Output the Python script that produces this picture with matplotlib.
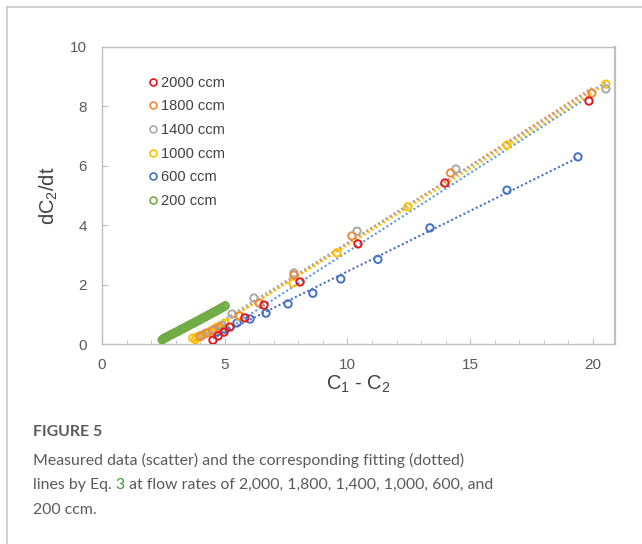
import numpy as np
import matplotlib
matplotlib.use("Agg")
import matplotlib.pyplot as plt
from matplotlib.lines import Line2D

plt.rcParams["font.family"] = ["Liberation Sans", "DejaVu Sans"]
plt.rcParams["mathtext.fontset"] = "custom"
plt.rcParams["mathtext.rm"] = "Liberation Sans"
plt.rcParams["mathtext.it"] = "Liberation Sans:italic"
plt.rcParams["mathtext.bf"] = "Liberation Sans:bold"

# ---- data ----
labels = ["2000 ccm", "1800 ccm", "1400 ccm", "1000 ccm", "600 ccm", "200 ccm"]

x2000 = [4.52, 4.73, 4.97, 5.21, 5.82, 6.60, 8.07, 10.43, 13.97, 19.84]
y2000 = [0.13, 0.27, 0.40, 0.57, 0.88, 1.31, 2.09, 3.37, 5.42, 8.18]

x1800 = [4.00, 4.27, 4.55, 4.80, 5.60, 6.40, 7.82, 10.18, 14.20, 19.96]
y1800 = [0.25, 0.37, 0.48, 0.57, 0.95, 1.38, 2.32, 3.64, 5.76, 8.45]

x1400 = [4.11, 4.50, 4.90, 5.30, 6.19, 7.82, 10.39, 14.42, 20.53]
y1400 = [0.30, 0.45, 0.62, 1.01, 1.55, 2.39, 3.80, 5.89, 8.59]

x1000 = [3.70, 3.80, 3.87, 4.00, 4.20, 4.40, 4.68, 5.00, 5.58, 7.78, 9.57, 12.46, 16.50, 20.53]
y1000 = [0.20, 0.15, 0.24, 0.28, 0.35, 0.42, 0.57, 0.70, 0.94, 2.05, 3.07, 4.62, 6.70, 8.75]

x600 = [4.68, 5.01, 5.50, 6.03, 6.68, 7.58, 8.59, 9.73, 11.24, 13.36, 16.50, 19.39]
y600 = [0.40, 0.50, 0.71, 0.84, 1.04, 1.35, 1.71, 2.19, 2.85, 3.91, 5.18, 6.30]

x200 = [2.45, 2.50, 2.55, 2.60, 2.65, 2.72, 2.80, 2.86, 2.93, 3.00, 3.08, 3.15, 3.22,
        3.30, 3.37, 3.45, 3.52, 3.60, 3.68, 3.75, 3.83, 3.90, 3.98, 4.05, 4.12, 4.20,
        4.28, 4.35, 4.42, 4.50, 4.57, 4.64, 4.72, 4.80, 4.87, 4.95, 5.02]
y200 = [0.14, 0.17, 0.20, 0.22, 0.24, 0.27, 0.31, 0.33, 0.36, 0.39, 0.42, 0.45, 0.49,
        0.52, 0.55, 0.58, 0.62, 0.65, 0.69, 0.71, 0.75, 0.78, 0.81, 0.85, 0.88, 0.91,
        0.95, 0.98, 1.01, 1.05, 1.08, 1.11, 1.15, 1.18, 1.22, 1.25, 1.29]

xs = [x2000, x1800, x1400, x1000, x600, x200]
ys = [y2000, y1800, y1400, y1000, y600, y200]
marker_colors = ["#E3161B", "#F08A3E", "#A8A8A8", "#FFC000", "#4472C4", "#70AD47"]
fit_colors = ["#5B9BD5", "#F08A3E", "#A8A8A8", "#FFC000", "#4472C4", "#70AD47"]

xticks = [0, 5, 10, 15, 20]
yticks = [0, 2, 4, 6, 8, 10]

# ---- figure ----
fig = plt.figure(figsize=(6.42, 5.44), dpi=100)
ax = fig.add_axes([102/642, 1-344/544, (615-102)/642, (344-47)/544])

for x, y, fc in zip(xs, ys, fit_colors):
    x = np.asarray(x); y = np.asarray(y)
    k, b = np.polyfit(x, y, 1)
    xx = np.array([x.min(), x.max()])
    ax.plot(xx, k*xx + b, linestyle=(0, (1, 1.2)), color=fc, lw=1.5, zorder=2)

order = [4, 3, 2, 1, 0, 5]
for i in order:
    ax.scatter(xs[i], ys[i], s=28, facecolors="none", edgecolors=marker_colors[i],
               linewidths=1.4, zorder=3)

ax.set_xlim(0, 20.9)
ax.set_ylim(0, 10)
ax.set_xticks(xticks)
ax.set_xticks(np.arange(0, 21, 1), minor=True)
ax.set_yticks(yticks)
tick_col = "#595959"
ax.tick_params(axis="x", which="major", direction="in", length=4, color="#BFBFBF",
               labelsize=11, labelcolor=tick_col, pad=10)
ax.tick_params(axis="x", which="minor", direction="in", length=3, color="#BFBFBF")
ax.tick_params(axis="y", which="major", direction="in", length=4, color="#BFBFBF",
               labelsize=11, labelcolor=tick_col, pad=11)
for s in ax.spines.values():
    s.set_color("#BFBFBF")
    s.set_linewidth(1.0)
ax.spines["right"].set_linewidth(1.6)

ax.set_ylabel("dC$_2$/dt", fontsize=14.5, color="#404040", labelpad=7)
ax.set_xlabel("C$_1$ - C$_2$", fontsize=14.5, color="#404040", labelpad=1)

handles = [Line2D([], [], marker="o", linestyle="none", markerfacecolor="none",
                  markeredgecolor=c, markeredgewidth=1.2, markersize=5)
           for c in marker_colors]
leg = fig.legend(handles, labels, loc="upper left", bbox_to_anchor=(140/642, 1-70/544),
                 frameon=False, fontsize=10.5, handletextpad=0.05, handlelength=1.0,
                 labelspacing=0.66, borderaxespad=0)
for t in leg.get_texts():
    t.set_color("#404040")

# page frame lines
fig.add_artist(Line2D([7/642, 7/642], [0, 1-7/544], transform=fig.transFigure,
                      color="#C8C8C8", lw=1.2))
fig.add_artist(Line2D([7/642, 1], [1-7/544, 1-7/544], transform=fig.transFigure,
                      color="#C8C8C8", lw=1.2))

# caption
cap_font = "Lato"
cap_col = "#5A5A5A"
cs = 11.4
fig.text(33/642, 1-432/544, "FIGURE 5", fontsize=cs, fontweight="bold",
         color=cap_col, family=cap_font, va="center")
fig.text(33/642, 1-460/544, "Measured data (scatter) and the corresponding fitting (dotted)",
         fontsize=cs, color=cap_col, family=cap_font, va="center")
t1 = fig.text(33/642, 1-485/544, "lines by Eq. ", fontsize=cs, color=cap_col,
              family=cap_font, va="center")
fig.text(33/642, 1-510/544, "200 ccm.", fontsize=cs, color=cap_col,
         family=cap_font, va="center")
fig.canvas.draw()
r = fig.canvas.get_renderer()
bb = t1.get_window_extent(r)
x3 = bb.x1 / fig.bbox.width
t3 = fig.text(x3, 1-485/544, "3", fontsize=cs, color="#3A9A3A", family=cap_font, va="center")
bb3 = t3.get_window_extent(r)
fig.text(bb3.x1 / fig.bbox.width, 1-485/544,
         " at flow rates of 2,000, 1,800, 1,400, 1,000, 600, and",
         fontsize=cs, color=cap_col, family=cap_font, va="center")

fig.savefig("out.png", dpi=100)
